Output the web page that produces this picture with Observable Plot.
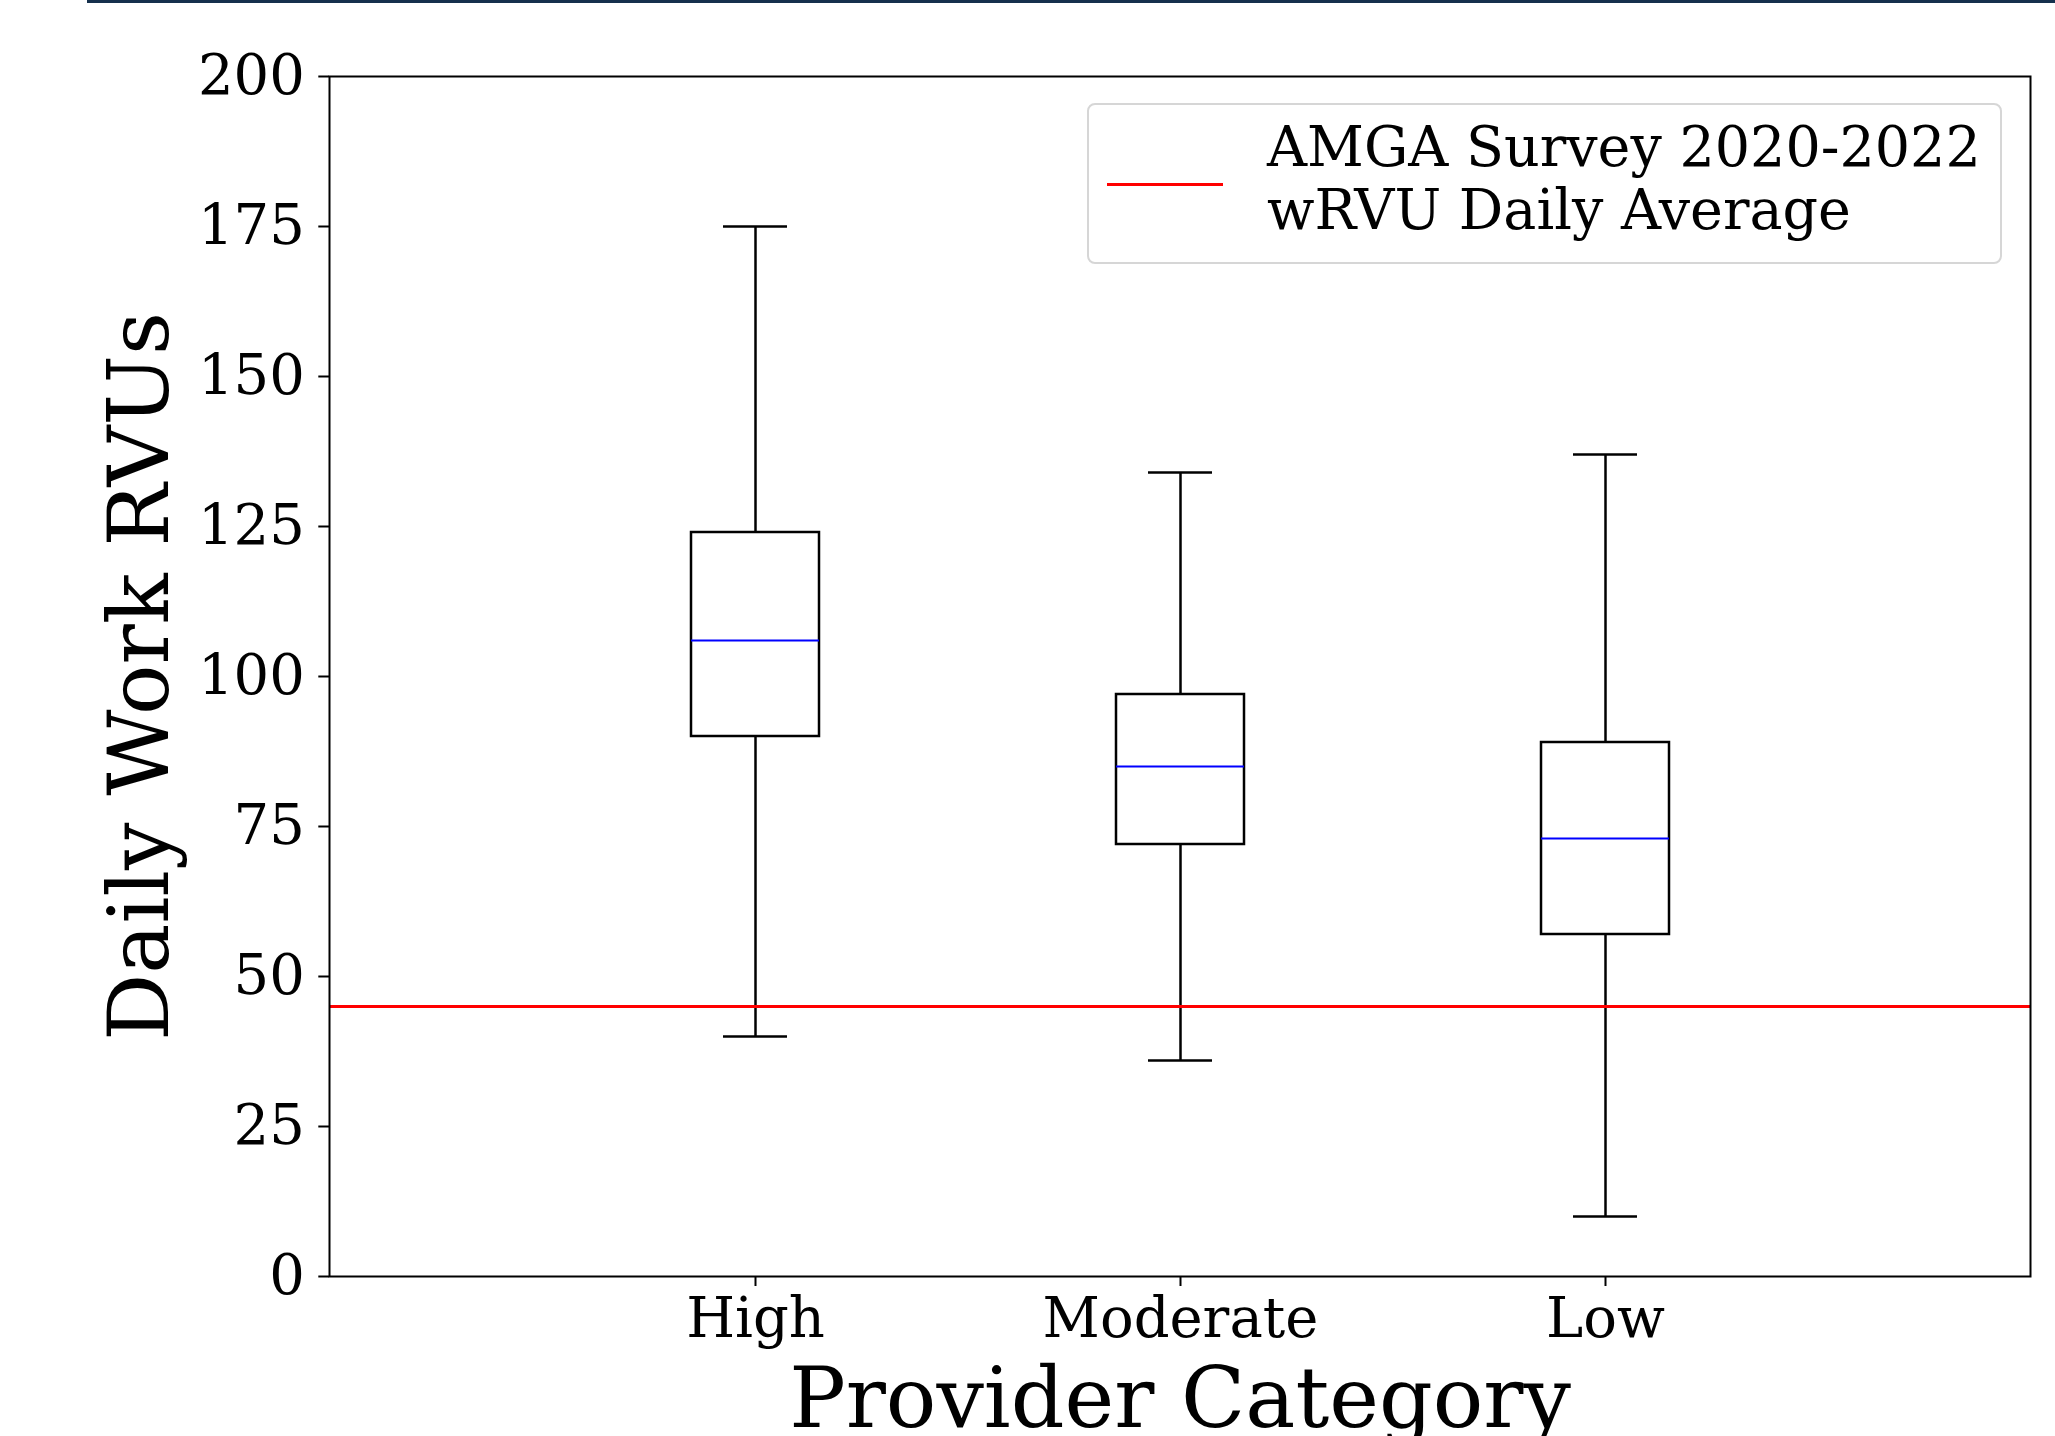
<!DOCTYPE html>
<html>
<head>
<meta charset="utf-8">
<script src="https://cdn.jsdelivr.net/npm/d3@7"></script>
<script src="https://cdn.jsdelivr.net/npm/@observablehq/plot@0.6"></script>
<style>
  html, body { margin: 0; padding: 0; background: #fff; width: 2055px; height: 1436px; overflow: hidden; }
  #wrap { position: relative; width: 2055px; height: 1436px; font-family: "DejaVu Serif", serif; }
  #topbar { position: absolute; left: 87px; right: 0; top: 0; height: 3px; background: #15304d; }
  #chart svg { position: absolute; left: 0; top: 0; }
  #legend { position: absolute; left: 1087px; top: 103px; width: 911px; height: 157px;
            border: 2px solid #d6d6d6; border-radius: 8px; background: rgba(255,255,255,0.8); }
  #legend .swatch { position: absolute; left: 18px; top: 78px; width: 116px; height: 3px; background: #ff0000; }
  #legend .label { position: absolute; left: 178px; top: 10px; font-size: 55.5px; line-height: 63px; white-space: pre; color: #000; }
</style>
</head>
<body>
<div id="wrap">
  <div id="topbar"></div>
  <div id="chart"></div>
  <div id="legend"><div class="swatch"></div><div class="label" id="legendLabel"></div></div>
</div>
<script>
// ---- data ----
const categories = ["High", "Moderate", "Low"];
const whiskerLow = [40, 36, 10];
const q1 = [90, 72, 57];
const median = [106, 85, 73];
const q3 = [124, 97, 89];
const whiskerHigh = [175, 134, 137];
const amgaAverage = [45];
const yTicks = [0, 25, 50, 75, 100, 125, 150, 175, 200];
const xTitle = "Provider Category";
const yTitle = "Daily Work RVUs";
const legendText = "AMGA Survey 2020-2022\nwRVU Daily Average";

const boxes = categories.map((c, i) => ({
  cat: c, lo: whiskerLow[i], q1: q1[i], med: median[i], q3: q3[i], hi: whiskerHigh[i]
}));

const font = "DejaVu Serif";
const capInset = 32;

const svg = Plot.plot({
  width: 2055,
  height: 1436,
  marginLeft: 329,
  marginRight: 25,
  marginTop: 76,
  marginBottom: 160,
  style: { fontFamily: font, fontSize: "56px", color: "#000", background: "transparent" },
  x: { type: "band", domain: categories, paddingInner: 0.7, paddingOuter: 0.85, label: null },
  y: { domain: [0, 200], label: null },
  marks: [
    Plot.axisY({ ticks: yTicks, tickSize: 10.7, tickPadding: 14, fontSize: 56, strokeWidth: 2, tickFormat: d => String(d), label: null }),
    Plot.axisX({ tickSize: 10, tickPadding: 11, fontSize: 56, strokeWidth: 2, label: null }),
    // whiskers
    Plot.ruleX(boxes, { x: "cat", y1: "lo", y2: "q1", stroke: "#000", strokeWidth: 2.5 }),
    Plot.ruleX(boxes, { x: "cat", y1: "q3", y2: "hi", stroke: "#000", strokeWidth: 2.5 }),
    // caps
    Plot.tickY(boxes, { x: "cat", y: "lo", insetLeft: capInset, insetRight: capInset, stroke: "#000", strokeWidth: 2.5 }),
    Plot.tickY(boxes, { x: "cat", y: "hi", insetLeft: capInset, insetRight: capInset, stroke: "#000", strokeWidth: 2.5 }),
    // boxes
    Plot.barY(boxes, { x: "cat", y1: "q1", y2: "q3", fill: "none", stroke: "#000", strokeWidth: 2.5 }),
    // medians
    Plot.tickY(boxes, { x: "cat", y: "med", stroke: "#0000ff", strokeWidth: 2.2 }),
    // AMGA reference line
    Plot.ruleY(amgaAverage, { y: d => d, stroke: "#ff0000", strokeWidth: 3 }),
    Plot.frame({ stroke: "#000", strokeWidth: 2 }),
    // axis titles
    Plot.text([yTitle], { text: d => d, frameAnchor: "left", rotate: -90, dx: -188, fontSize: 84, lineAnchor: "middle", textAnchor: "middle", fill: "#000" }),
    Plot.text([xTitle], { text: d => d, frameAnchor: "bottom", dy: 124, fontSize: 84, lineAnchor: "middle", textAnchor: "middle", fill: "#000" })
  ]
});
document.getElementById("chart").appendChild(svg);
document.getElementById("legendLabel").textContent = legendText;
</script>
</body>
</html>
